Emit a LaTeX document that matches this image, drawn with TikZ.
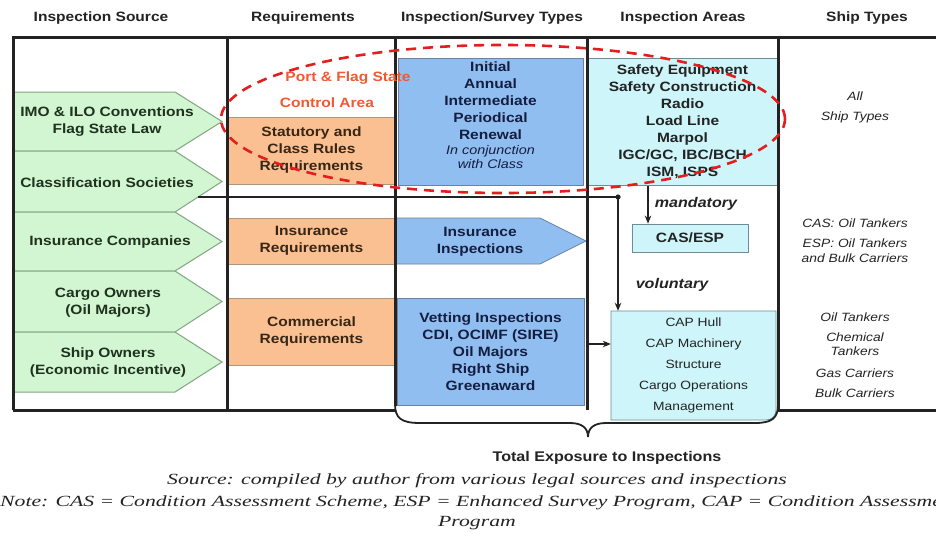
\documentclass[tikz,border=0pt]{standalone}
\usepackage{fontspec}
\setmainfont{Liberation Sans}[FakeStretch=1.15]
\newfontfamily\serifcap{Liberation Serif}[FakeStretch=1.4]
\usetikzlibrary{arrows.meta}
\definecolor{greenfill}{RGB}{210,245,210}
\definecolor{greenline}{RGB}{130,165,130}
\definecolor{orangefill}{RGB}{250,192,145}
\definecolor{orangeline}{RGB}{175,150,125}
\definecolor{bluefill}{RGB}{145,190,240}
\definecolor{blueline}{RGB}{110,130,160}
\definecolor{cyanfill}{RGB}{205,245,250}
\definecolor{cyanline}{RGB}{110,140,145}
\definecolor{dashred}{RGB}{228,30,30}
\definecolor{pfred}{RGB}{238,90,50}
\definecolor{navy}{RGB}{20,30,65}
\definecolor{ink}{RGB}{35,35,35}
\definecolor{greentext}{RGB}{30,50,30}
\definecolor{browntext}{RGB}{55,38,22}
\newcommand\hdrfnt{\fontsize{13.5}{16}\selectfont\bfseries}
\newcommand\boxfnt{\fontsize{13.5}{17}\selectfont\bfseries}
\newcommand\itfnt{\fontsize{12.5}{14}\selectfont\itshape}
\newcommand\capfnt{\fontsize{12}{21}\selectfont}
\newcommand\shipfnt{\fontsize{12}{14.5}\selectfont\itshape}
\newcommand\notefnt{\serifcap\itshape\fontsize{15.5}{18}\selectfont}
\begin{document}
\begin{tikzpicture}[x=1pt,y=-1pt,
  hdr/.style={font=\hdrfnt, text=ink, inner sep=0},
  frame/.style={line width=3pt, draw=ink},
  src/.style={fill=greenfill, draw=greenline, line width=1pt},
  srctext/.style={font=\boxfnt, text=greentext, align=center, inner sep=0},
  req/.style={fill=orangefill, draw=orangeline, line width=0.8pt, font=\boxfnt, text=browntext, align=center, inner sep=0},
  insp/.style={fill=bluefill, draw=blueline, line width=0.8pt, font=\boxfnt, text=navy, align=center, inner sep=0},
  area/.style={fill=cyanfill, draw=cyanline, line width=0.8pt, font=\boxfnt, text=ink, align=center, inner sep=0},
  pftext/.style={font=\boxfnt, text=pfred, inner sep=0},
  ship/.style={font=\shipfnt, text=ink, align=center, inner sep=0},
  flowlab/.style={font=\fontsize{14}{16}\selectfont\bfseries\itshape, text=ink, inner sep=0},
  arr/.style={-{Stealth[length=8pt,width=6.5pt]}, line width=1.4pt, draw=ink},
  thinline/.style={line width=1.4pt, draw=ink},
  bracestyle/.style={line width=1.8pt, draw=ink},
  note/.style={font=\notefnt, text=ink, inner sep=0},
  redring/.style={draw=dashred, line width=2.6pt, dash pattern=on 10pt off 7pt}
]
\useasboundingbox (0,0) rectangle (936,538);
\fill[white] (0,0) rectangle (936,538);

% headers
\node[hdr] (h1) at (101,18) {Inspection Source};
\node[hdr] (h2) at (303,18) {Requirements};
\node[hdr] (h3) at (492,18) {Inspection/Survey Types};
\node[hdr] (h4) at (683,18) {Inspection Areas};
\node[hdr] (h5) at (867,18) {Ship Types};

% inspection sources (green arrows)
\path[src] (13,92) -- (175,92) -- (222,121.5) -- (175,151) -- (13,151) -- cycle;
\path[src] (13,151) -- (175,151) -- (222,181.5) -- (175,212) -- (13,212) -- cycle;
\path[src] (13,212) -- (175,212) -- (222,241.5) -- (175,271) -- (13,271) -- cycle;
\path[src] (13,271) -- (175,271) -- (222,301.5) -- (175,332) -- (13,332) -- cycle;
\path[src] (13,332) -- (175,332) -- (222,362) -- (175,392) -- (13,392) -- cycle;
\node[srctext] (imo) at (107,122) {IMO \& ILO Conventions\\Flag State Law};
\node[srctext] (cls) at (107,183) {Classification Societies};
\node[srctext] (insc) at (110,242) {Insurance Companies};
\node[srctext] (cargo) at (108,302.5) {Cargo Owners\\(Oil Majors)};
\node[srctext] (owners) at (108,363) {Ship Owners\\(Economic Incentive)};

% requirements
\node[req, minimum width=167pt, minimum height=67pt] (stat) at (311.5,150.5) {Statutory and\\Class Rules\\Requirements};
\node[req, minimum width=167pt, minimum height=46pt] (insreq) at (311.5,241) {Insurance\\Requirements};
\node[req, minimum width=167pt, minimum height=67pt] (comreq) at (311.5,331.5) {Commercial\\Requirements};

% inspection / survey types
\node[insp, minimum width=185pt, minimum height=127pt] (init) at (490.5,121.5) {};
\node[font=\boxfnt, text=navy, align=center, inner sep=0] (inittxt) at (490.5,101) {Initial\\Annual\\Intermediate\\Periodical\\Renewal};
\node[font=\itfnt, text=navy, align=center, inner sep=0] (initit) at (490.5,157) {In conjunction\\with Class};
\path[insp] (395,218) -- (540,218) -- (586,241) -- (540,264) -- (395,264) -- cycle;
\node[font=\boxfnt, text=navy, align=center, inner sep=0] (insinsp) at (480,242) {Insurance\\Inspections};
\node[insp, minimum width=187pt, minimum height=107pt] (vet) at (490.5,351.5) {Vetting Inspections\\CDI, OCIMF (SIRE)\\Oil Majors\\Right Ship\\Greenaward};

% inspection areas
\node[area, minimum width=189pt, minimum height=127pt] (areas) at (682.5,121.5) {Safety Equipment\\Safety Construction\\Radio\\Load Line\\Marpol\\IGC/GC, IBC/BCH\\ISM, ISPS};
\node[area, minimum width=116pt, minimum height=28pt] (cas) at (690,238) {CAS/ESP};
\path[fill=cyanfill, draw=cyanline, line width=0.8pt] (611,311) -- (776,311) -- (776,410) .. controls (776,416) and (772,420) .. (766,420) -- (611,420) -- cycle;
\node[font=\capfnt, text=ink, align=center, inner sep=0, minimum width=165pt, minimum height=109pt] (cap) at (693.5,365.5) {CAP Hull\\CAP Machinery\\Structure\\Cargo Operations\\Management};

% frame
\draw[frame] (13,410) -- (13,37) -- (936,37);
\draw[frame] (13,410) -- (395,410);
\draw[frame] (778,410) -- (936,410);
\draw[frame] (227,37) -- (227,410);
\draw[frame] (395,37) -- (395,406);
\draw[frame] (587,37) -- (587,410);
\draw[frame] (778,37) -- (778,410);
\draw[bracestyle] (395,404) .. controls (395,418) and (401,423) .. (420,423) -- (570,423) .. controls (582,423) and (588,428) .. (588,437) .. controls (588,428) and (594,423) .. (606,423) -- (755,423) .. controls (772,423) and (778,418) .. (778,405);

% port & flag state label (over the column line and box)
\node[pftext] (pf1) at (348,78) {Port \& Flag State};
\node[pftext] (pf2) at (327,103) {Control Area};

% connectors
\coordinate (hstart) at (198,197);
\coordinate (hdot) at (618,197);
\coordinate (mtop) at (648,185.5);
\coordinate (vstart) at (589,344);
\draw[thinline] (hstart) -- (hdot);
\draw[arr] (hdot) -- (hdot |- cap.north);
\draw[arr] (mtop) -- (mtop |- cas.north);
\draw[arr] (vstart) -- (vstart -| cap.west);
\node[flowlab] (mand) at (696,204) {mandatory};
\node[flowlab] (vol) at (672,285) {voluntary};

% ship types
\node[ship] (s1) at (855,96) {All};
\node[ship] (s2) at (855,117) {Ship Types};
\node[ship] (s3) at (855,223) {CAS: Oil Tankers};
\node[ship] (s4) at (855,250.5) {ESP: Oil Tankers\\and Bulk Carriers};
\node[ship] (s5) at (855,317) {Oil Tankers};
\node[ship] (s6) at (855,344) {Chemical\\Tankers};
\node[ship] (s7) at (855,373) {Gas Carriers};
\node[ship] (s8) at (855,393) {Bulk Carriers};

% port & flag state control ring
\draw[redring] (503,119) ellipse [x radius=282pt, y radius=74pt];
\fill[ink] (hdot) circle (2.6pt);

% footer
\node[font=\fontsize{14}{16}\selectfont\bfseries, text=ink, inner sep=0] (total) at (607,458) {Total Exposure to Inspections};
\node[note] (source) at (477,481) {Source: compiled by author from various legal sources and inspections};
\node[note, anchor=west] (notes) at (0,503) {Note: CAS = Condition Assessment Scheme, ESP = Enhanced Survey Program, CAP = Condition Assessment};
\node[note] (prog) at (477,523) {Program};
\end{tikzpicture}
\end{document}
